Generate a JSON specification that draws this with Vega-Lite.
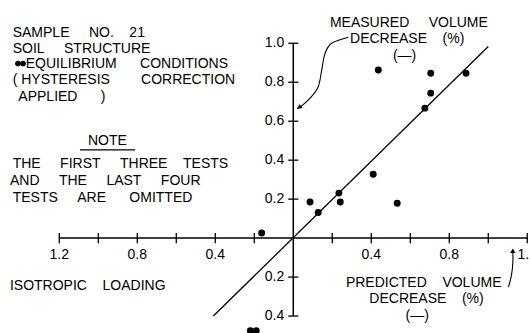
{
  "$schema": "https://vega.github.io/schema/vega-lite/v6.json",
  "width": 530,
  "height": 333,
  "autosize": {"type": "none"},
  "padding": 0,
  "background": "white",
  "config": {"view": {"stroke": null}, "text": {"font": "Liberation Sans", "fontSize": 14, "color": "black"}},
  "datasets": {
    "points": [
      {"predicted": 0.086, "measured": 0.185},
      {"predicted": 0.128, "measured": 0.131},
      {"predicted": 0.234, "measured": 0.231},
      {"predicted": 0.241, "measured": 0.185},
      {"predicted": 0.41, "measured": 0.328},
      {"predicted": 0.533, "measured": 0.179},
      {"predicted": 0.436, "measured": 0.863},
      {"predicted": 0.705, "measured": 0.846},
      {"predicted": 0.705, "measured": 0.744},
      {"predicted": 0.675, "measured": 0.667},
      {"predicted": 0.886, "measured": 0.846},
      {"predicted": -0.162, "measured": 0.026},
      {"predicted": -0.22, "measured": -0.475},
      {"predicted": -0.19, "measured": -0.475}
    ],
    "fit": [
      {"predicted": -0.41, "measured": -0.4},
      {"predicted": 1.0, "measured": 0.983}
    ],
    "axislines": [
      {"x1": -1.2, "x2": 1.2, "y1": 0, "y2": 0},
      {"x1": 0, "x2": 0, "y1": -0.4, "y2": 1.0}
    ],
    "xticks": [
      {"v": -1.2}, {"v": -1.0}, {"v": -0.8}, {"v": -0.6}, {"v": -0.4}, {"v": -0.2},
      {"v": 0.2}, {"v": 0.4}, {"v": 0.6}, {"v": 0.8}, {"v": 1.0}, {"v": 1.2}
    ],
    "yticks": [
      {"v": 1.0}, {"v": 0.8}, {"v": 0.6}, {"v": 0.4}, {"v": 0.2}, {"v": -0.2}, {"v": -0.4}
    ],
    "xlabels": [
      {"v": -1.2, "label": "1.2"}, {"v": -0.8, "label": "0.8"}, {"v": -0.4, "label": "0.4"},
      {"v": 0.4, "label": "0.4"}, {"v": 0.8, "label": "0.8"}, {"v": 1.2, "label": "1.2"}
    ],
    "ylabels": [
      {"v": 1.0, "label": "1.0"}, {"v": 0.8, "label": "0.8"}, {"v": 0.6, "label": "0.6"},
      {"v": 0.4, "label": "0.4"}, {"v": 0.2, "label": "0.2"}, {"v": -0.2, "label": "0.2"}, {"v": -0.4, "label": "0.4"}
    ],
    "notes": [
      {"x": -1.439, "y": 1.087, "text": "SAMPLE\u00a0\u00a0\u00a0\u00a0\u00a0NO.\u00a0\u00a0\u00a0\u00a021"},
      {"x": -1.439, "y": 1.008, "text": "SOIL\u00a0\u00a0\u00a0\u00a0\u00a0STRUCTURE"},
      {"x": -1.372, "y": 0.93, "text": "EQUILIBRIUM\u00a0\u00a0\u00a0\u00a0\u00a0\u00a0CONDITIONS"},
      {"x": -1.439, "y": 0.848, "text": "(\u00a0HYSTERESIS\u00a0\u00a0\u00a0\u00a0\u00a0\u00a0\u00a0\u00a0CORRECTION"},
      {"x": -1.41, "y": 0.762, "text": "APPLIED\u00a0\u00a0\u00a0\u00a0\u00a0\u00a0)"},
      {"x": -1.053, "y": 0.535, "text": "NOTE"},
      {"x": -1.439, "y": 0.415, "text": "THE\u00a0\u00a0\u00a0\u00a0\u00a0FIRST\u00a0\u00a0\u00a0\u00a0\u00a0THREE\u00a0\u00a0\u00a0\u00a0TESTS"},
      {"x": -1.453, "y": 0.33, "text": "AND\u00a0\u00a0\u00a0\u00a0\u00a0THE\u00a0\u00a0\u00a0\u00a0\u00a0LAST\u00a0\u00a0\u00a0\u00a0\u00a0FOUR"},
      {"x": -1.439, "y": 0.244, "text": "TESTS\u00a0\u00a0\u00a0\u00a0\u00a0ARE\u00a0\u00a0\u00a0\u00a0\u00a0\u00a0OMITTED"},
      {"x": -1.453, "y": -0.209, "text": "ISOTROPIC\u00a0\u00a0\u00a0\u00a0LOADING"},
      {"x": 0.188, "y": 1.142, "text": "MEASURED\u00a0\u00a0\u00a0\u00a0\u00a0VOLUME"},
      {"x": 0.291, "y": 1.056, "text": "DECREASE\u00a0\u00a0\u00a0\u00a0(%)"},
      {"x": 0.511, "y": 0.971, "text": "(\u2014)"},
      {"x": 0.27, "y": -0.192, "text": "PREDICTED\u00a0\u00a0\u00a0\u00a0VOLUME"},
      {"x": 0.39, "y": -0.275, "text": "DECREASE\u00a0\u00a0\u00a0\u00a0(%)"},
      {"x": 0.576, "y": -0.363, "text": "(\u2014)"}
    ],
    "legendDots": [
      {"x": -1.412, "y": 0.896},
      {"x": -1.386, "y": 0.896}
    ],
    "arrowMeasured": [
      {"i": 1, "x": 0.282, "y": 1.031},
      {"i": 2, "x": 0.197, "y": 1.0},
      {"i": 3, "x": 0.163, "y": 0.949},
      {"i": 4, "x": 0.146, "y": 0.863},
      {"i": 5, "x": 0.128, "y": 0.777},
      {"i": 6, "x": 0.086, "y": 0.718},
      {"i": 7, "x": 0.043, "y": 0.678},
      {"i": 8, "x": 0.02, "y": 0.664}
    ],
    "arrowPredicted": [
      {"i": 1, "x": 1.104, "y": -0.25},
      {"i": 2, "x": 1.119, "y": -0.19},
      {"i": 3, "x": 1.126, "y": -0.128},
      {"i": 4, "x": 1.126, "y": -0.06}
    ]
  },
  "layer": [
    {
      "data": {"name": "axislines"},
      "mark": {"type": "rule", "color": "black", "strokeWidth": 1.5},
      "encoding": {
        "x": {"field": "x1", "type": "quantitative", "scale": {"domain": [-1.504, 1.214], "nice": false, "zero": false}, "axis": null},
        "x2": {"field": "x2"},
        "y": {"field": "y1", "type": "quantitative", "scale": {"domain": [-0.487, 1.222], "nice": false, "zero": false}, "axis": null},
        "y2": {"field": "y2"}
      }
    },
    {
      "data": {"name": "xticks"},
      "mark": {"type": "rule", "color": "black", "strokeWidth": 1.3},
      "encoding": {
        "x": {"field": "v", "type": "quantitative"},
        "y": {"datum": -0.026},
        "y2": {"datum": 0.026}
      }
    },
    {
      "data": {"name": "yticks"},
      "mark": {"type": "rule", "color": "black", "strokeWidth": 1.3},
      "encoding": {
        "y": {"field": "v", "type": "quantitative"},
        "x": {"datum": -0.026},
        "x2": {"datum": 0.026}
      }
    },
    {
      "data": {"name": "xlabels"},
      "mark": {"type": "text", "align": "center", "baseline": "top", "dy": 10},
      "encoding": {
        "x": {"field": "v", "type": "quantitative"},
        "y": {"datum": 0},
        "text": {"field": "label"}
      }
    },
    {
      "data": {"name": "ylabels"},
      "mark": {"type": "text", "align": "right", "baseline": "middle", "dx": -9},
      "encoding": {
        "y": {"field": "v", "type": "quantitative"},
        "x": {"datum": 0},
        "text": {"field": "label"}
      }
    },
    {
      "data": {"name": "fit"},
      "mark": {"type": "line", "color": "black", "strokeWidth": 1.3},
      "encoding": {
        "x": {"field": "predicted", "type": "quantitative"},
        "y": {"field": "measured", "type": "quantitative"}
      }
    },
    {
      "data": {"name": "points"},
      "mark": {"type": "circle", "color": "black", "opacity": 1, "size": 48},
      "encoding": {
        "x": {"field": "predicted", "type": "quantitative"},
        "y": {"field": "measured", "type": "quantitative"}
      }
    },
    {
      "data": {"name": "notes"},
      "mark": {"type": "text", "align": "left", "baseline": "top"},
      "encoding": {
        "x": {"field": "x", "type": "quantitative"},
        "y": {"field": "y", "type": "quantitative"},
        "text": {"field": "text"}
      }
    },
    {
      "data": {"name": "legendDots"},
      "mark": {"type": "circle", "color": "black", "opacity": 1, "size": 32},
      "encoding": {
        "x": {"field": "x", "type": "quantitative"},
        "y": {"field": "y", "type": "quantitative"}
      }
    },
    {
      "data": {"values": [{}]},
      "mark": {"type": "rule", "color": "black", "strokeWidth": 1.3},
      "encoding": {
        "x": {"datum": -1.094},
        "x2": {"datum": -0.812},
        "y": {"datum": 0.453}
      }
    },
    {
      "data": {"name": "arrowMeasured"},
      "mark": {"type": "line", "color": "black", "strokeWidth": 1.1, "interpolate": "cardinal"},
      "encoding": {
        "x": {"field": "x", "type": "quantitative"},
        "y": {"field": "y", "type": "quantitative"},
        "order": {"field": "i"}
      }
    },
    {
      "data": {"name": "arrowPredicted"},
      "mark": {"type": "line", "color": "black", "strokeWidth": 1.1, "interpolate": "cardinal"},
      "encoding": {
        "x": {"field": "x", "type": "quantitative"},
        "y": {"field": "y", "type": "quantitative"},
        "order": {"field": "i"}
      }
    },
    {
      "data": {"values": [{}]},
      "mark": {"type": "point", "shape": "triangle-down", "angle": 57, "filled": true, "color": "black", "opacity": 1, "size": 28},
      "encoding": {
        "x": {"datum": 0.03},
        "y": {"datum": 0.671}
      }
    },
    {
      "data": {"values": [{}]},
      "mark": {"type": "point", "shape": "triangle-up", "filled": true, "color": "black", "opacity": 1, "size": 28},
      "encoding": {
        "x": {"datum": 1.126},
        "y": {"datum": -0.065}
      }
    }
  ]
}
